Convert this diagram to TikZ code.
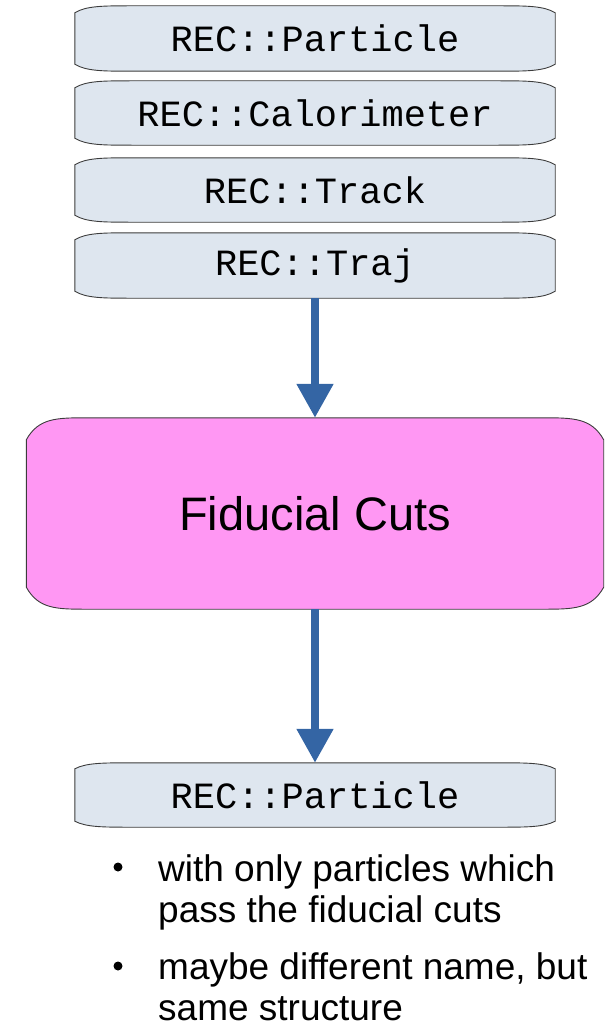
\documentclass[tikz,border=0pt]{standalone}
\usepackage{fontspec}
\setmainfont{Liberation Sans}
\newfontfamily\recmono{Liberation Mono}
\usetikzlibrary{calc,backgrounds,arrows.meta}
\definecolor{boxfill}{HTML}{DEE6EF}
\definecolor{fidfill}{HTML}{FF97F3}
\definecolor{arrowblue}{HTML}{3465A4}
\definecolor{edgegray}{HTML}{3C3C3C}
\newcommand\capoutline[4]{%
  \path[#4] ($(#1.north west)+(0,-#3)$)
    .. controls ($(#1.north west)+(0.2*#2,0)$) and ($(#1.north west)+(0.5*#2,0)$) .. ($(#1.north west)+(#2,0)$)
    -- ($(#1.north east)+(-#2,0)$)
    .. controls ($(#1.north east)+(-0.5*#2,0)$) and ($(#1.north east)+(-0.2*#2,0)$) .. ($(#1.north east)+(0,-#3)$)
    -- ($(#1.south east)+(0,#3)$)
    .. controls ($(#1.south east)+(-0.2*#2,0)$) and ($(#1.south east)+(-0.5*#2,0)$) .. ($(#1.south east)+(-#2,0)$)
    -- ($(#1.south west)+(#2,0)$)
    .. controls ($(#1.south west)+(0.5*#2,0)$) and ($(#1.south west)+(0.2*#2,0)$) .. ($(#1.south west)+(0,#3)$)
    -- cycle;}
\tikzset{
  recbox/.style={rectangle, inner sep=0pt, minimum width=480pt, minimum height=65pt,
    font=\recmono\fontsize{37}{42}\selectfont, text=black},
  fidbox/.style={rectangle, inner sep=0pt, minimum width=577pt, minimum height=191pt,
    font=\fontsize{47}{56}\selectfont, text=black},
  recshape/.style={fill=boxfill, draw=edgegray, line width=0.9pt},
  fidshape/.style={fill=fidfill, draw=edgegray, line width=0.9pt},
  flow/.style={draw=arrowblue, line width=8pt, -{Triangle[width=35pt,length=34pt]}},
  bulletdot/.style={circle, fill=black, inner sep=0pt, minimum size=9pt},
  bullettext/.style={anchor=base west, inner sep=0pt, font=\fontsize{37}{41}\selectfont, align=left, text=black}
}
\begin{document}
\begin{tikzpicture}[x=1pt,y=1pt]
\useasboundingbox (0,0) rectangle (606,-1022);
\node[recbox] (p1) at (315,-38.5) {REC::Particle};
\node[recbox, minimum height=64pt] (cal) at (315,-113) {REC::Calorimeter};
\node[recbox, minimum height=64pt] (trk) at (315,-190) {REC::Track};
\node[recbox] (traj) at (315,-265.5) {REC::Traj};
\node[fidbox] (fid) at (315,-513.5) {Fiducial Cuts};
\node[recbox, minimum height=64pt] (p2) at (315,-795) {REC::Particle};
\begin{scope}[on background layer]
  \capoutline{p1}{57}{7}{recshape}
  \capoutline{cal}{57}{7}{recshape}
  \capoutline{trk}{57}{7}{recshape}
  \capoutline{traj}{57}{7}{recshape}
  \capoutline{fid}{61}{22}{fidshape}
  \capoutline{p2}{57}{6}{recshape}
\end{scope}
\draw[flow] (traj.south) -- (fid.north);
\draw[flow] (fid.south) -- (p2.north);
\node[bulletdot] (b1) at (118,-867) {};
\node[bullettext] (t1) at (158,-922) {with only particles which\\pass the fiducial cuts};
\node[bulletdot] (b2) at (118,-966) {};
\node[bullettext] (t2) at (158,-1020) {maybe different name, but\\same structure};
\end{tikzpicture}
\end{document}
